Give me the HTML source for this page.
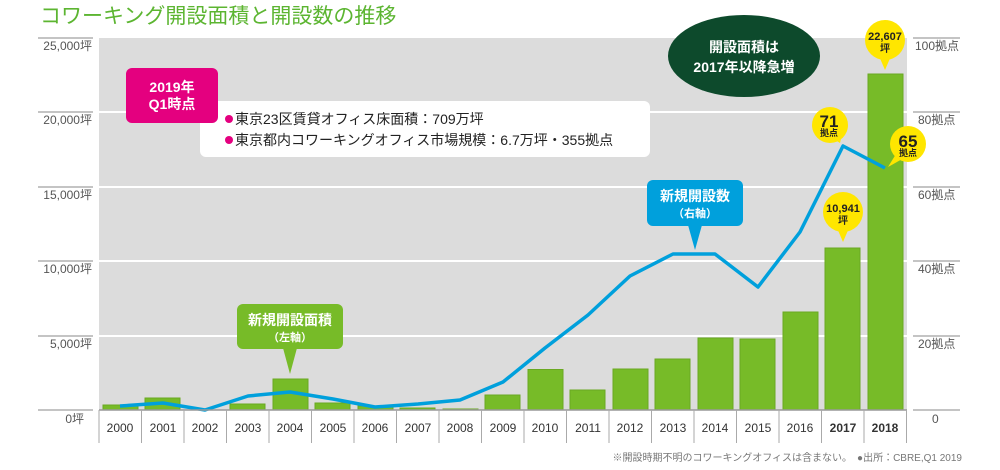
<!DOCTYPE html>
<html><head><meta charset="utf-8"><style>
body{margin:0;background:#fff;}
svg{display:block;font-family:"Liberation Sans","Noto Sans CJK JP",sans-serif;}
</style></head><body>
<svg width="1000" height="470" viewBox="0 0 1000 470" xmlns="http://www.w3.org/2000/svg">
<text x="40" y="23" font-size="21" fill="#5cb531">コワーキング開設面積と開設数の推移</text>
<rect x="99" y="38" width="808" height="372" fill="#dcdcdc"/>
<g stroke="#fff" stroke-width="2">
<line x1="99" y1="112" x2="907" y2="112"/><line x1="99" y1="187" x2="907" y2="187"/>
<line x1="99" y1="261" x2="907" y2="261"/><line x1="99" y1="336" x2="907" y2="336"/>
</g>
<g stroke="#888" stroke-width="1">
<line x1="38" y1="38" x2="93" y2="38"/><line x1="38" y1="112" x2="93" y2="112"/><line x1="38" y1="187" x2="93" y2="187"/>
<line x1="38" y1="261" x2="93" y2="261"/><line x1="38" y1="336" x2="93" y2="336"/><line x1="38" y1="410" x2="93" y2="410"/>
<line x1="913" y1="38" x2="960" y2="38"/><line x1="913" y1="112" x2="960" y2="112"/><line x1="913" y1="187" x2="960" y2="187"/>
<line x1="913" y1="261" x2="960" y2="261"/><line x1="913" y1="336" x2="960" y2="336"/><line x1="913" y1="410" x2="960" y2="410"/>
</g>
<g font-size="12" fill="#555" text-anchor="end">
<text x="92" y="50">25,000坪</text><text x="92" y="124">20,000坪</text><text x="92" y="199">15,000坪</text>
<text x="92" y="273">10,000坪</text><text x="92" y="348">5,000坪</text><text x="84" y="423">0坪</text>
</g>
<g font-size="12" fill="#555">
<text x="915" y="50">100拠点</text><text x="918" y="124">80拠点</text><text x="918" y="199">60拠点</text>
<text x="918" y="273">40拠点</text><text x="918" y="348">20拠点</text><text x="932" y="423">0</text>
</g>
<g fill="#77bb28" stroke="#6aa822" stroke-width="1">
<rect x="103" y="405" width="35" height="5"/><rect x="145" y="398" width="35" height="12"/>
<rect x="230" y="404" width="35" height="6"/><rect x="273" y="379" width="35" height="31"/>
<rect x="315" y="403" width="35" height="7"/><rect x="358" y="406" width="35" height="4"/>
<rect x="400" y="408" width="35" height="2"/><rect x="443" y="409" width="35" height="1"/>
<rect x="485" y="395" width="35" height="15"/><rect x="528" y="369.5" width="35" height="40.5"/>
<rect x="570" y="390" width="35" height="20"/><rect x="613" y="369" width="35" height="41"/>
<rect x="655" y="359" width="35" height="51"/><rect x="698" y="338" width="35" height="72"/>
<rect x="740" y="339" width="35" height="71"/><rect x="783" y="312" width="35" height="98"/>
<rect x="825" y="248" width="35" height="162"/><rect x="868" y="74" width="35" height="336"/>
</g>
<polyline fill="none" stroke="#00a0dc" stroke-width="3.5" stroke-linejoin="round" points="120,406 163,403 205,410 248,396 290,392 333,399 375,407 418,404 460,400 503,382 545,348 588,315 630,276 673,254 715,254 758,287 800,232 843,146 885,168"/>
<line x1="99" y1="410" x2="907" y2="410" stroke="#999" stroke-width="1.5"/>
<g stroke="#aaa" stroke-width="1">
<line x1="99" y1="410" x2="99" y2="443"/><line x1="141.5" y1="410" x2="141.5" y2="443"/><line x1="184" y1="410" x2="184" y2="443"/><line x1="226.5" y1="410" x2="226.5" y2="443"/><line x1="269" y1="410" x2="269" y2="443"/><line x1="311.5" y1="410" x2="311.5" y2="443"/><line x1="354" y1="410" x2="354" y2="443"/><line x1="396.5" y1="410" x2="396.5" y2="443"/><line x1="439" y1="410" x2="439" y2="443"/><line x1="481.5" y1="410" x2="481.5" y2="443"/><line x1="524" y1="410" x2="524" y2="443"/><line x1="566.5" y1="410" x2="566.5" y2="443"/><line x1="609" y1="410" x2="609" y2="443"/><line x1="651.5" y1="410" x2="651.5" y2="443"/><line x1="694" y1="410" x2="694" y2="443"/><line x1="736.5" y1="410" x2="736.5" y2="443"/><line x1="779" y1="410" x2="779" y2="443"/><line x1="821.5" y1="410" x2="821.5" y2="443"/><line x1="864" y1="410" x2="864" y2="443"/><line x1="906.5" y1="410" x2="906.5" y2="443"/>
</g>
<g font-size="12" fill="#333" text-anchor="middle">
<text x="120" y="432">2000</text><text x="163" y="432">2001</text><text x="205" y="432">2002</text><text x="248" y="432">2003</text><text x="290" y="432">2004</text><text x="333" y="432">2005</text><text x="375" y="432">2006</text><text x="418" y="432">2007</text><text x="460" y="432">2008</text><text x="503" y="432">2009</text><text x="545" y="432">2010</text><text x="588" y="432">2011</text><text x="630" y="432">2012</text><text x="673" y="432">2013</text><text x="715" y="432">2014</text><text x="758" y="432">2015</text><text x="800" y="432">2016</text>
<text x="843" y="432" font-weight="bold">2017</text><text x="885" y="432" font-weight="bold">2018</text>
</g>
<text x="962" y="461" font-size="10" fill="#777" text-anchor="end">※開設時期不明のコワーキングオフィスは含まない。　●出所：CBRE,Q1 2019</text>
<rect x="200" y="101" width="450" height="56" rx="6" fill="#fff"/>
<rect x="126" y="68" width="92" height="55" rx="6" fill="#e4007f"/>
<text x="172" y="92" font-size="14" font-weight="bold" fill="#fff" text-anchor="middle">2019年</text>
<text x="172" y="109" font-size="14" font-weight="bold" fill="#fff" text-anchor="middle">Q1時点</text>
<circle cx="229" cy="119" r="4" fill="#e4007f"/><circle cx="229" cy="140" r="4" fill="#e4007f"/>
<text x="235" y="124" font-size="14" fill="#222">東京23区賃貸オフィス床面積：709万坪</text>
<text x="235" y="145" font-size="14" fill="#222">東京都内コワーキングオフィス市場規模：6.7万坪・355拠点</text>
<rect x="237" y="304" width="106" height="45" rx="6" fill="#77bb28"/>
<polygon points="283,348 297,348 290,374" fill="#77bb28"/>
<text x="290" y="325" font-size="14" font-weight="bold" fill="#fff" text-anchor="middle">新規開設面積</text>
<text x="290" y="341" font-size="11" font-weight="bold" fill="#fff" text-anchor="middle">（左軸）</text>
<rect x="647" y="180" width="96" height="46" rx="6" fill="#00a0dc"/>
<polygon points="688,225 702,225 695,250" fill="#00a0dc"/>
<text x="695" y="201" font-size="14" font-weight="bold" fill="#fff" text-anchor="middle">新規開設数</text>
<text x="695" y="217" font-size="11" font-weight="bold" fill="#fff" text-anchor="middle">（右軸）</text>
<ellipse cx="744" cy="56" rx="76" ry="41" fill="#0d4a2c"/>
<text x="744" y="52" font-size="14" font-weight="bold" fill="#fff" text-anchor="middle">開設面積は</text>
<text x="744" y="72" font-size="14" font-weight="bold" fill="#fff" text-anchor="middle">2017年以降急増</text>
<g fill="#ffe600">
<circle cx="885" cy="40" r="20"/><polygon points="879,56 891,56 885,70"/>
<circle cx="843" cy="212" r="20"/><polygon points="837,228 849,228 843,242"/>
<circle cx="830" cy="125" r="18"/><polygon points="832,138 842,134 840,143"/>
<circle cx="908" cy="144" r="18"/><polygon points="896,154 904,158 888,167"/>
</g>
<g font-weight="bold" fill="#222" text-anchor="middle">
<text x="885" y="40" font-size="11">22,607</text><text x="885" y="52" font-size="10">坪</text>
<text x="843" y="212" font-size="11">10,941</text><text x="843" y="224" font-size="10">坪</text>
<text x="829" y="127" font-size="17">71</text><text x="829" y="136" font-size="9">拠点</text>
<text x="908" y="147" font-size="17">65</text><text x="908" y="156" font-size="9">拠点</text>
</g>
</svg>
</body></html>
